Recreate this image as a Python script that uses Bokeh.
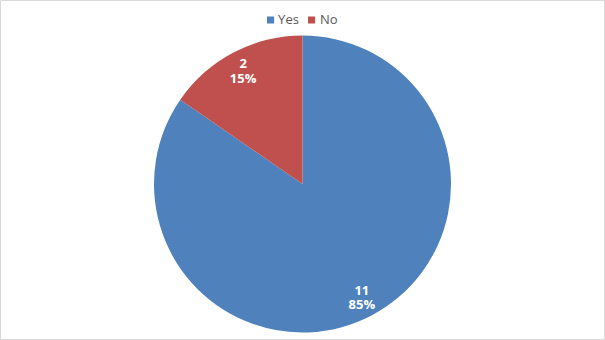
import math
from bokeh.plotting import figure
from bokeh.models import ColumnDataSource, Range1d, Legend, LegendItem
from bokeh.core.properties import value
from bokeh.embed import file_html
from bokeh.resources import INLINE

categories = ["Yes", "No"]
counts = [11, 2]
colors = ["#4F81BD", "#C0504D"]

W, H = 605, 340
cx, cy, R = 302, 340 - 183.5, 148.5

total = sum(counts)
starts, ends, lx, ly, lab_n, lab_p = [], [], [], [], [], []
cum = 0.0
for c in counts:
    a0 = cum / total * 2 * math.pi
    cum += c
    a1 = cum / total * 2 * math.pi
    # clockwise from 12 o'clock -> bokeh anticlockwise angles
    starts.append(math.pi / 2 - a1)
    ends.append(math.pi / 2 - a0)
    mid = (a0 + a1) / 2
    lx.append(cx + 0.86 * R * math.sin(mid))
    ly.append(cy + 0.86 * R * math.cos(mid))
    lab_n.append(f"{c}")
    lab_p.append(f"{round(100 * c / total)}%")

src = ColumnDataSource(dict(cat=categories, start=starts, end=ends, color=colors,
                            lx=lx, ly=ly, n=lab_n, pct=lab_p))

p = figure(width=W, height=H, x_range=Range1d(0, W), y_range=Range1d(0, H),
           output_backend="svg", toolbar_location=None, min_border=0)
p.axis.visible = False
p.grid.visible = False
p.outline_line_color = "#d9d9d9"
p.outline_line_width = 1
p.background_fill_color = "white"

r = p.wedge(x=cx, y=cy, radius=R, start_angle="start", end_angle="end",
            fill_color="color", line_color=None, source=src)

for col, off in (("n", -7), ("pct", 7)):
    p.text(x="lx", y="ly", text=col, source=src, text_color="white",
           text_font=value("Open Sans"), text_font_style="bold", text_font_size="13px",
           text_align="center", text_baseline="middle", y_offset=off)

legend = Legend(items=[LegendItem(label=categories[i], renderers=[r], index=i)
                       for i in range(len(categories))],
                orientation="horizontal", location="top_center",
                label_text_font="Open Sans", label_text_font_size="13px",
                label_text_color="#595959", glyph_width=9, glyph_height=9,
                label_standoff=4, spacing=8, padding=0, margin=10,
                border_line_color=None, background_fill_alpha=0)
p.add_layout(legend)

open("out.html", "w").write(file_html(p, INLINE))
